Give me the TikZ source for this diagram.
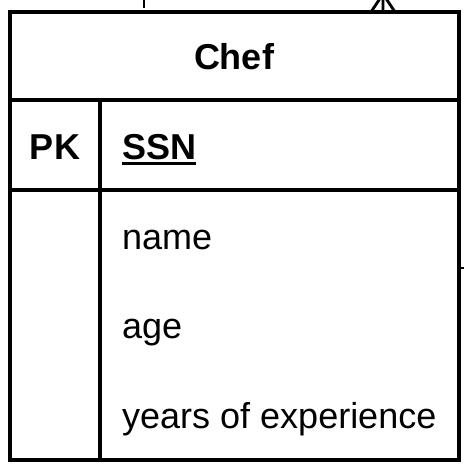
\documentclass[tikz,border=0pt]{standalone}
\usepackage{fontspec}
\setmainfont{Liberation Sans}
\newcommand\myul[1]{\setbox0\hbox{#1}\rlap{\rule[-6pt]{\wd0}{3pt}}\box0}
\begin{document}
\begin{tikzpicture}[x=1pt,y=-1pt,
  edge/.style={line width=3.2pt,line cap=rect},
  stub/.style={line width=2.8pt},
  txt/.style={inner sep=0pt,font=\fontsize{36}{40}\selectfont},
  ttl/.style={inner sep=0pt,font=\fontsize{36}{40}\selectfont\bfseries}]
\useasboundingbox (0,0) rectangle (464,467);
% table frame
\draw[edge] (10,12) rectangle (459,460);
\draw[edge] (10,100) -- (459,100);
\draw[edge] (10,190) -- (459,190);
\draw[edge] (100,100) -- (100,460);
% connector stubs
\coordinate (s1) at (144,0);
\coordinate (s1e) at (144,8);
\draw[stub] (s1) -- (s1e);
\coordinate (cf) at (383,-6);
\coordinate (cfl) at (371,12);
\coordinate (cfm) at (383,12);
\coordinate (cfr) at (395,12);
\draw[stub] (cf) -- (cfl) (cf) -- (cfm) (cf) -- (cfr);
\coordinate (s2) at (459,268);
\coordinate (s2e) at (464,268);
\draw[stub] (s2) -- (s2e);
% texts
\node[ttl,anchor=base] (chef) at (234,69) {Chef};
\node[ttl,anchor=base] (pk) at (55,159) {PK};
\node[ttl,anchor=base west] (ssn) at (122,159) {\myul{SSN}};
\node[txt,anchor=base west] (name) at (122,249) {name};
\node[txt,anchor=base west] (age) at (122,338) {age};
\node[txt,anchor=base west] (yoe) at (122,428) {years of experience};
\end{tikzpicture}
\end{document}
